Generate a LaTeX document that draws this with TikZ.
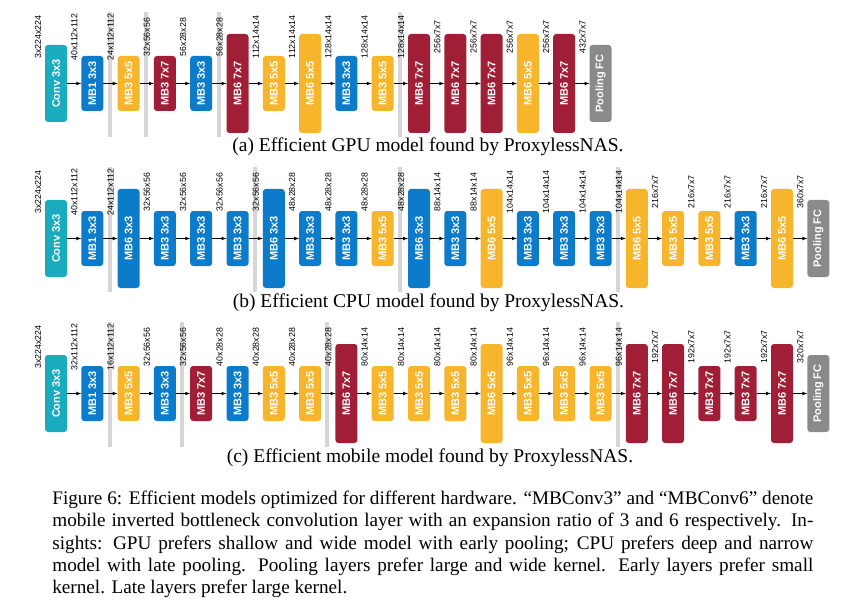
\documentclass[tikz,border=0pt]{standalone}
\usepackage{graphicx}
\usepackage{fontspec}
\setmainfont{Liberation Serif}
\setsansfont{Liberation Sans}
\usepackage{tikz}
\usetikzlibrary{positioning}
\usetikzlibrary{backgrounds}

\definecolor{colconv}{HTML}{1AABBE}
\definecolor{colthree}{HTML}{0C7BC9}
\definecolor{colfive}{HTML}{F7B52C}
\definecolor{colseven}{HTML}{A11F36}
\definecolor{colpool}{HTML}{8A8A8A}
\definecolor{colbar}{HTML}{D6D6D6}

\newcommand{\vtext}[1]{\rotatebox{90}{#1}}

\begin{document}
\begin{tikzpicture}[x=1pt, y=-1pt, >=latex, line width=0.7pt, node distance=14.3pt,
smallnode/.style={rectangle, rounded corners=3pt, minimum width=22pt, minimum height=55pt, inner sep=0pt, outer sep=0pt, text=white, font=\sffamily\bfseries\fontsize{11}{12}\selectfont},
midnode/.style={smallnode, minimum height=77pt},
tallnode/.style={smallnode, minimum height=99pt},
dimnode/.style={inner sep=0pt, font=\sffamily\fontsize{8.8}{9}\selectfont},
barnode/.style={rectangle, fill=colbar, minimum width=4pt, minimum height=125pt, inner sep=0pt},
capnode/.style={inner sep=0pt, font=\fontsize{19.5}{22}\selectfont},
]
\useasboundingbox (0,0) rectangle (868,607);

%Row a (GPU)
\node[midnode, fill=colconv]    (a0)  at (56,83.5)     {\vtext{Conv 3x3}};
\node[smallnode, fill=colthree] (a1)  [right=of a0]    {\vtext{MB1 3x3}};
\node[smallnode, fill=colfive]  (a2)  [right=of a1]    {\vtext{MB3 5x5}};
\node[smallnode, fill=colseven] (a3)  [right=of a2]    {\vtext{MB3 7x7}};
\node[smallnode, fill=colthree] (a4)  [right=of a3]    {\vtext{MB3 3x3}};
\node[tallnode, fill=colseven]  (a5)  [right=of a4]    {\vtext{MB6 7x7}};
\node[smallnode, fill=colfive]  (a6)  [right=of a5]    {\vtext{MB3 5x5}};
\node[tallnode, fill=colfive]   (a7)  [right=of a6]    {\vtext{MB6 5x5}};
\node[smallnode, fill=colthree] (a8)  [right=of a7]    {\vtext{MB3 3x3}};
\node[smallnode, fill=colfive]  (a9)  [right=of a8]    {\vtext{MB3 5x5}};
\node[tallnode, fill=colseven]  (a10) [right=of a9]    {\vtext{MB6 7x7}};
\node[tallnode, fill=colseven]  (a11) [right=of a10]   {\vtext{MB6 7x7}};
\node[tallnode, fill=colseven]  (a12) [right=of a11]   {\vtext{MB6 7x7}};
\node[tallnode, fill=colfive]   (a13) [right=of a12]   {\vtext{MB6 5x5}};
\node[tallnode, fill=colseven]  (a14) [right=of a13]   {\vtext{MB6 7x7}};
\node[midnode, fill=colpool]    (a15) [right=of a14]   {\vtext{Pooling FC}};

\node[dimnode] (a0d)  at ([xshift=-7pt,yshift=46.5pt]a0.west)  {\vtext{3x224x224}};
\node[dimnode] (a1d)  at ([xshift=-7pt,yshift=46.5pt]a1.west)  {\vtext{40x112x112}};
\node[dimnode] (a2d)  at ([xshift=-7pt,yshift=46.5pt]a2.west)  {\vtext{24x112x112}};
\node[dimnode] (a3d)  at ([xshift=-7pt,yshift=46.5pt]a3.west)  {\vtext{32x56x56}};
\node[dimnode] (a4d)  at ([xshift=-7pt,yshift=46.5pt]a4.west)  {\vtext{56x28x28}};
\node[dimnode] (a5d)  at ([xshift=-7pt,yshift=46.5pt]a5.west)  {\vtext{56x28x28}};
\node[dimnode] (a6d)  at ([xshift=-7pt,yshift=46.5pt]a6.west)  {\vtext{112x14x14}};
\node[dimnode] (a7d)  at ([xshift=-7pt,yshift=46.5pt]a7.west)  {\vtext{112x14x14}};
\node[dimnode] (a8d)  at ([xshift=-7pt,yshift=46.5pt]a8.west)  {\vtext{128x14x14}};
\node[dimnode] (a9d)  at ([xshift=-7pt,yshift=46.5pt]a9.west)  {\vtext{128x14x14}};
\node[dimnode] (a10d) at ([xshift=-7pt,yshift=46.5pt]a10.west) {\vtext{128x14x14}};
\node[dimnode] (a11d) at ([xshift=-7pt,yshift=46.5pt]a11.west) {\vtext{256x7x7}};
\node[dimnode] (a12d) at ([xshift=-7pt,yshift=46.5pt]a12.west) {\vtext{256x7x7}};
\node[dimnode] (a13d) at ([xshift=-7pt,yshift=46.5pt]a13.west) {\vtext{256x7x7}};
\node[dimnode] (a14d) at ([xshift=-7pt,yshift=46.5pt]a14.west) {\vtext{256x7x7}};
\node[dimnode] (a15d) at ([xshift=-7pt,yshift=46.5pt]a15.west) {\vtext{432x7x7}};

\draw[->] (a0) -- (a1);
\draw[->] (a1) -- (a2);
\draw[->] (a2) -- (a3);
\draw[->] (a3) -- (a4);
\draw[->] (a4) -- (a5);
\draw[->] (a5) -- (a6);
\draw[->] (a6) -- (a7);
\draw[->] (a7) -- (a8);
\draw[->] (a8) -- (a9);
\draw[->] (a9) -- (a10);
\draw[->] (a10) -- (a11);
\draw[->] (a11) -- (a12);
\draw[->] (a12) -- (a13);
\draw[->] (a13) -- (a14);
\draw[->] (a14) -- (a15);

\node[capnode] (capa) at (428,152) [anchor=base] {(a) Efficient GPU model found by ProxylessNAS.};

%Row b (CPU)
\node[midnode, fill=colconv]    (b0)  at (56,238.5)    {\vtext{Conv 3x3}};
\node[smallnode, fill=colthree] (b1)  [right=of b0]    {\vtext{MB1 3x3}};
\node[tallnode, fill=colthree]  (b2)  [right=of b1]    {\vtext{MB6 3x3}};
\node[smallnode, fill=colthree] (b3)  [right=of b2]    {\vtext{MB3 3x3}};
\node[smallnode, fill=colthree] (b4)  [right=of b3]    {\vtext{MB3 3x3}};
\node[smallnode, fill=colthree] (b5)  [right=of b4]    {\vtext{MB3 3x3}};
\node[tallnode, fill=colthree]  (b6)  [right=of b5]    {\vtext{MB6 3x3}};
\node[smallnode, fill=colthree] (b7)  [right=of b6]    {\vtext{MB3 3x3}};
\node[smallnode, fill=colthree] (b8)  [right=of b7]    {\vtext{MB3 3x3}};
\node[smallnode, fill=colfive]  (b9)  [right=of b8]    {\vtext{MB3 5x5}};
\node[tallnode, fill=colthree]  (b10) [right=of b9]    {\vtext{MB6 3x3}};
\node[smallnode, fill=colthree] (b11) [right=of b10]   {\vtext{MB3 3x3}};
\node[tallnode, fill=colfive]   (b12) [right=of b11]   {\vtext{MB6 5x5}};
\node[smallnode, fill=colthree] (b13) [right=of b12]   {\vtext{MB3 3x3}};
\node[smallnode, fill=colthree] (b14) [right=of b13]   {\vtext{MB3 3x3}};
\node[smallnode, fill=colthree] (b15) [right=of b14]   {\vtext{MB3 3x3}};
\node[tallnode, fill=colfive]   (b16) [right=of b15]   {\vtext{MB6 5x5}};
\node[smallnode, fill=colfive]  (b17) [right=of b16]   {\vtext{MB3 5x5}};
\node[smallnode, fill=colfive]  (b18) [right=of b17]   {\vtext{MB3 5x5}};
\node[smallnode, fill=colthree] (b19) [right=of b18]   {\vtext{MB3 3x3}};
\node[tallnode, fill=colfive]   (b20) [right=of b19]   {\vtext{MB6 5x5}};
\node[midnode, fill=colpool]    (b21) [right=of b20]   {\vtext{Pooling FC}};

\node[dimnode] (b0d)  at ([xshift=-7pt,yshift=46.5pt]b0.west)  {\vtext{3x224x224}};
\node[dimnode] (b1d)  at ([xshift=-7pt,yshift=46.5pt]b1.west)  {\vtext{40x112x112}};
\node[dimnode] (b2d)  at ([xshift=-7pt,yshift=46.5pt]b2.west)  {\vtext{24x112x112}};
\node[dimnode] (b3d)  at ([xshift=-7pt,yshift=46.5pt]b3.west)  {\vtext{32x56x56}};
\node[dimnode] (b4d)  at ([xshift=-7pt,yshift=46.5pt]b4.west)  {\vtext{32x56x56}};
\node[dimnode] (b5d)  at ([xshift=-7pt,yshift=46.5pt]b5.west)  {\vtext{32x56x56}};
\node[dimnode] (b6d)  at ([xshift=-7pt,yshift=46.5pt]b6.west)  {\vtext{32x56x56}};
\node[dimnode] (b7d)  at ([xshift=-7pt,yshift=46.5pt]b7.west)  {\vtext{48x28x28}};
\node[dimnode] (b8d)  at ([xshift=-7pt,yshift=46.5pt]b8.west)  {\vtext{48x28x28}};
\node[dimnode] (b9d)  at ([xshift=-7pt,yshift=46.5pt]b9.west)  {\vtext{48x28x28}};
\node[dimnode] (b10d) at ([xshift=-7pt,yshift=46.5pt]b10.west) {\vtext{48x28x28}};
\node[dimnode] (b11d) at ([xshift=-7pt,yshift=46.5pt]b11.west) {\vtext{88x14x14}};
\node[dimnode] (b12d) at ([xshift=-7pt,yshift=46.5pt]b12.west) {\vtext{88x14x14}};
\node[dimnode] (b13d) at ([xshift=-7pt,yshift=46.5pt]b13.west) {\vtext{104x14x14}};
\node[dimnode] (b14d) at ([xshift=-7pt,yshift=46.5pt]b14.west) {\vtext{104x14x14}};
\node[dimnode] (b15d) at ([xshift=-7pt,yshift=46.5pt]b15.west) {\vtext{104x14x14}};
\node[dimnode] (b16d) at ([xshift=-7pt,yshift=46.5pt]b16.west) {\vtext{104x14x14}};
\node[dimnode] (b17d) at ([xshift=-7pt,yshift=46.5pt]b17.west) {\vtext{216x7x7}};
\node[dimnode] (b18d) at ([xshift=-7pt,yshift=46.5pt]b18.west) {\vtext{216x7x7}};
\node[dimnode] (b19d) at ([xshift=-7pt,yshift=46.5pt]b19.west) {\vtext{216x7x7}};
\node[dimnode] (b20d) at ([xshift=-7pt,yshift=46.5pt]b20.west) {\vtext{216x7x7}};
\node[dimnode] (b21d) at ([xshift=-7pt,yshift=46.5pt]b21.west) {\vtext{360x7x7}};

\draw[->] (b0) -- (b1);
\draw[->] (b1) -- (b2);
\draw[->] (b2) -- (b3);
\draw[->] (b3) -- (b4);
\draw[->] (b4) -- (b5);
\draw[->] (b5) -- (b6);
\draw[->] (b6) -- (b7);
\draw[->] (b7) -- (b8);
\draw[->] (b8) -- (b9);
\draw[->] (b9) -- (b10);
\draw[->] (b10) -- (b11);
\draw[->] (b11) -- (b12);
\draw[->] (b12) -- (b13);
\draw[->] (b13) -- (b14);
\draw[->] (b14) -- (b15);
\draw[->] (b15) -- (b16);
\draw[->] (b16) -- (b17);
\draw[->] (b17) -- (b18);
\draw[->] (b18) -- (b19);
\draw[->] (b19) -- (b20);
\draw[->] (b20) -- (b21);

\node[capnode] (capb) at (428.5,307) [anchor=base] {(b) Efficient CPU model found by ProxylessNAS.};

%Row c (mobile)
\node[midnode, fill=colconv]    (c0)  at (56,393.5)    {\vtext{Conv 3x3}};
\node[smallnode, fill=colthree] (c1)  [right=of c0]    {\vtext{MB1 3x3}};
\node[smallnode, fill=colfive]  (c2)  [right=of c1]    {\vtext{MB3 5x5}};
\node[smallnode, fill=colthree] (c3)  [right=of c2]    {\vtext{MB3 3x3}};
\node[smallnode, fill=colseven] (c4)  [right=of c3]    {\vtext{MB3 7x7}};
\node[smallnode, fill=colthree] (c5)  [right=of c4]    {\vtext{MB3 3x3}};
\node[smallnode, fill=colfive]  (c6)  [right=of c5]    {\vtext{MB3 5x5}};
\node[smallnode, fill=colfive]  (c7)  [right=of c6]    {\vtext{MB3 5x5}};
\node[tallnode, fill=colseven]  (c8)  [right=of c7]    {\vtext{MB6 7x7}};
\node[smallnode, fill=colfive]  (c9)  [right=of c8]    {\vtext{MB3 5x5}};
\node[smallnode, fill=colfive]  (c10) [right=of c9]    {\vtext{MB3 5x5}};
\node[smallnode, fill=colfive]  (c11) [right=of c10]   {\vtext{MB3 5x5}};
\node[tallnode, fill=colfive]   (c12) [right=of c11]   {\vtext{MB6 5x5}};
\node[smallnode, fill=colfive]  (c13) [right=of c12]   {\vtext{MB3 5x5}};
\node[smallnode, fill=colfive]  (c14) [right=of c13]   {\vtext{MB3 5x5}};
\node[smallnode, fill=colfive]  (c15) [right=of c14]   {\vtext{MB3 5x5}};
\node[tallnode, fill=colseven]  (c16) [right=of c15]   {\vtext{MB6 7x7}};
\node[tallnode, fill=colseven]  (c17) [right=of c16]   {\vtext{MB6 7x7}};
\node[smallnode, fill=colseven] (c18) [right=of c17]   {\vtext{MB3 7x7}};
\node[smallnode, fill=colseven] (c19) [right=of c18]   {\vtext{MB3 7x7}};
\node[tallnode, fill=colseven]  (c20) [right=of c19]   {\vtext{MB6 7x7}};
\node[midnode, fill=colpool]    (c21) [right=of c20]   {\vtext{Pooling FC}};

\node[dimnode] (c0d)  at ([xshift=-7pt,yshift=46.5pt]c0.west)  {\vtext{3x224x224}};
\node[dimnode] (c1d)  at ([xshift=-7pt,yshift=46.5pt]c1.west)  {\vtext{32x112x112}};
\node[dimnode] (c2d)  at ([xshift=-7pt,yshift=46.5pt]c2.west)  {\vtext{16x112x112}};
\node[dimnode] (c3d)  at ([xshift=-7pt,yshift=46.5pt]c3.west)  {\vtext{32x56x56}};
\node[dimnode] (c4d)  at ([xshift=-7pt,yshift=46.5pt]c4.west)  {\vtext{32x56x56}};
\node[dimnode] (c5d)  at ([xshift=-7pt,yshift=46.5pt]c5.west)  {\vtext{40x28x28}};
\node[dimnode] (c6d)  at ([xshift=-7pt,yshift=46.5pt]c6.west)  {\vtext{40x28x28}};
\node[dimnode] (c7d)  at ([xshift=-7pt,yshift=46.5pt]c7.west)  {\vtext{40x28x28}};
\node[dimnode] (c8d)  at ([xshift=-7pt,yshift=46.5pt]c8.west)  {\vtext{40x28x28}};
\node[dimnode] (c9d)  at ([xshift=-7pt,yshift=46.5pt]c9.west)  {\vtext{80x14x14}};
\node[dimnode] (c10d) at ([xshift=-7pt,yshift=46.5pt]c10.west) {\vtext{80x14x14}};
\node[dimnode] (c11d) at ([xshift=-7pt,yshift=46.5pt]c11.west) {\vtext{80x14x14}};
\node[dimnode] (c12d) at ([xshift=-7pt,yshift=46.5pt]c12.west) {\vtext{80x14x14}};
\node[dimnode] (c13d) at ([xshift=-7pt,yshift=46.5pt]c13.west) {\vtext{96x14x14}};
\node[dimnode] (c14d) at ([xshift=-7pt,yshift=46.5pt]c14.west) {\vtext{96x14x14}};
\node[dimnode] (c15d) at ([xshift=-7pt,yshift=46.5pt]c15.west) {\vtext{96x14x14}};
\node[dimnode] (c16d) at ([xshift=-7pt,yshift=46.5pt]c16.west) {\vtext{96x14x14}};
\node[dimnode] (c17d) at ([xshift=-7pt,yshift=46.5pt]c17.west) {\vtext{192x7x7}};
\node[dimnode] (c18d) at ([xshift=-7pt,yshift=46.5pt]c18.west) {\vtext{192x7x7}};
\node[dimnode] (c19d) at ([xshift=-7pt,yshift=46.5pt]c19.west) {\vtext{192x7x7}};
\node[dimnode] (c20d) at ([xshift=-7pt,yshift=46.5pt]c20.west) {\vtext{192x7x7}};
\node[dimnode] (c21d) at ([xshift=-7pt,yshift=46.5pt]c21.west) {\vtext{320x7x7}};

\draw[->] (c0) -- (c1);
\draw[->] (c1) -- (c2);
\draw[->] (c2) -- (c3);
\draw[->] (c3) -- (c4);
\draw[->] (c4) -- (c5);
\draw[->] (c5) -- (c6);
\draw[->] (c6) -- (c7);
\draw[->] (c7) -- (c8);
\draw[->] (c8) -- (c9);
\draw[->] (c9) -- (c10);
\draw[->] (c10) -- (c11);
\draw[->] (c11) -- (c12);
\draw[->] (c12) -- (c13);
\draw[->] (c13) -- (c14);
\draw[->] (c14) -- (c15);
\draw[->] (c15) -- (c16);
\draw[->] (c16) -- (c17);
\draw[->] (c17) -- (c18);
\draw[->] (c18) -- (c19);
\draw[->] (c19) -- (c20);
\draw[->] (c20) -- (c21);

\node[capnode] (capc) at (430,462) [anchor=base] {(c) Efficient mobile model found by ProxylessNAS.};

%Downsampling bars
\begin{scope}[on background layer]
\node[barnode] (a2s)  at ([xshift=-8pt,yshift=9pt]a2.west)  {};
\node[barnode] (a3s)  at ([xshift=-8pt,yshift=9pt]a3.west)  {};
\node[barnode] (a5s)  at ([xshift=-8pt,yshift=9pt]a5.west)  {};
\node[barnode] (a10s) at ([xshift=-8pt,yshift=9pt]a10.west) {};
\node[barnode] (b2s)  at ([xshift=-8pt,yshift=9pt]b2.west)  {};
\node[barnode] (b6s)  at ([xshift=-8pt,yshift=9pt]b6.west)  {};
\node[barnode] (b10s) at ([xshift=-8pt,yshift=9pt]b10.west) {};
\node[barnode] (b16s) at ([xshift=-8pt,yshift=9pt]b16.west) {};
\node[barnode] (c2s)  at ([xshift=-8pt,yshift=9pt]c2.west)  {};
\node[barnode] (c4s)  at ([xshift=-8pt,yshift=9pt]c4.west)  {};
\node[barnode] (c8s)  at ([xshift=-8pt,yshift=9pt]c8.west)  {};
\node[barnode] (c16s) at ([xshift=-8pt,yshift=9pt]c16.west) {};
\end{scope}

%Figure caption
\node[capnode, text width=761pt, align=justify, anchor=north west, font=\fontsize{19.2}{22.1}\selectfont] (fig) at (52,491)
  {Figure 6: Efficient models optimized for different hardware. “MBConv3” and “MBConv6” denote\linebreak
   mobile inverted bottleneck convolution layer with an expansion ratio of 3 and 6 respectively. In-\linebreak
   sights: GPU prefers shallow and wide model with early pooling; CPU prefers deep and narrow\linebreak
   model with late pooling. Pooling layers prefer large and wide kernel. Early layers prefer small\linebreak
   kernel. Late layers prefer large kernel.};
\end{tikzpicture}
\end{document}
